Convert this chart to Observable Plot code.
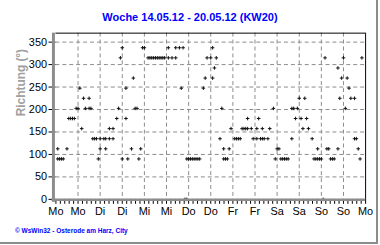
<!DOCTYPE html>
<html><head><meta charset="utf-8">
<script src="https://cdn.jsdelivr.net/npm/d3@7"></script>
<script src="https://cdn.jsdelivr.net/npm/@observablehq/plot@0.6"></script>
<style>
body{margin:0;background:#fff;}
#wrap{position:relative;width:376px;height:242px;border-right:2px solid #8c8c8c;border-bottom:2px solid #8c8c8c;overflow:hidden;background:#fff;}
#title{position:absolute;left:0;top:12px;width:380px;text-align:center;font:bold 11px/11px "Liberation Sans",Arial,sans-serif;color:#0000ff;white-space:nowrap;}
#caption{position:absolute;left:15px;top:228px;font:bold 6.5px/6.5px "Liberation Sans",Arial,sans-serif;color:#0000ff;white-space:nowrap;}
#chart{position:absolute;left:0;top:0;}
</style></head>
<body>
<div id="wrap">
<div id="chart"></div>
<div id="title">Woche 14.05.12 - 20.05.12 (KW20)</div>
<div id="caption">© WsWin32 - Osterode am Harz, City</div>
</div>
<script>
// hours since Mo 14.05.12 00:00, grouped by wind direction (degrees)
const dir000 = [70, 71, 145];
const dir090 = [1,2,3,4,23,36,39,45,71,72,73,74,75,76,77,78,91,92,93,119,122,123,124,125,126,140,141,142,143,144,149,150,151,165];
const dir112 = [1,6,24,27,41,46,91,94,120,121,142,147,148,153,164];
const dir135 = [20,21,22,24,26,27,29,31,89,97,98,99,100,107,109,111,112,113,115,128,139,162,163];
const dir157 = [14,29,31,95,101,102,103,104,106,109,112,116,134,137];
const dir180 = [7,8,9,10,33,38,104,110,130,133,136];
const dir202 = [11,12,16,18,19,34,43,44,90,118,128,129,131,157];
const dir225 = [15,18,132,135,154,160,162];
const dir247 = [13,38,68,80,159];
const dir270 = [42,81,85,155,158];
const dir292 = [86,153];
const dir315 = [35,50,51,52,53,54,55,56,57,58,59,61,63,65,82,84,87,146,156,166];
const dir337 = [36,47,48,61,65,67,69,85];

const groups = [[0,dir000],[90,dir090],[112.5,dir112],[135,dir135],[157.5,dir157],[180,dir180],[202.5,dir202],[225,dir225],[247.5,dir247],[270,dir270],[292.5,dir292],[315,dir315],[337.5,dir337]];
const data = groups.flatMap(([d, hs]) => hs.map(h => ({hour: h, dir: d})));

const dayLabels = ["Mo","Mo","Di","Di","Mi","Mi","Do","Do","Fr","Fr","Sa","Sa","So","So","Mo"];
const labelHours = dayLabels.map((_, i) => i * 12);
const yTicks = [0,50,100,150,200,250,300,350];
const xMinor = d3.range(0, 168.01, 2.4);

const gray = "#8c8c8c";
const chart = Plot.plot({
  width: 380, height: 245,
  marginLeft: 56, marginRight: 11, marginTop: 33, marginBottom: 44,
  style: {fontFamily: "'Liberation Sans', Arial, sans-serif", background: "transparent"},
  x: {domain: [0, 168], label: null},
  y: {domain: [0, 370], label: null},
  marks: [
    Plot.gridY(yTicks.slice(1), {stroke: gray, strokeOpacity: 1, strokeDasharray: "4,3"}),
    Plot.gridX(labelHours.slice(1, -1), {stroke: gray, strokeOpacity: 1, strokeDasharray: "4,3"}),
    Plot.ruleY([370], {stroke: "#000"}),
    Plot.ruleX([168], {stroke: "#000"}),
    Plot.dot(data, {x: "hour", y: "dir", symbol: "plus", r: 1.25, stroke: "#111", strokeWidth: 1, fill: "none"}),
    Plot.axisY({ticks: yTicks, tickSize: 7, tickPadding: 2, fontSize: 11, fill: "#000", stroke: "#000", label: null}),
    Plot.axisX({ticks: xMinor, tickSize: 5, text: null, stroke: "#000", label: null}),
    Plot.axisX({ticks: labelHours, tickSize: 0, tickPadding: 8, fontSize: 11, fill: "#000",
      tickFormat: (d) => dayLabels[Math.round(d / 12)], label: null}),
    Plot.ruleX([0], {stroke: gray, strokeWidth: 3, dx: -2.5, insetBottom: -3}),
    Plot.ruleY([0], {stroke: gray, strokeWidth: 2.5, dy: 0.5, insetLeft: -4}),
    Plot.text(["Richtung (°)"], {frameAnchor: "left", dx: -35, rotate: -90, fontSize: 12, fontWeight: "bold", fill: "#a0a0a0"})
  ]
});
document.getElementById("chart").appendChild(chart);
</script>
</body></html>
